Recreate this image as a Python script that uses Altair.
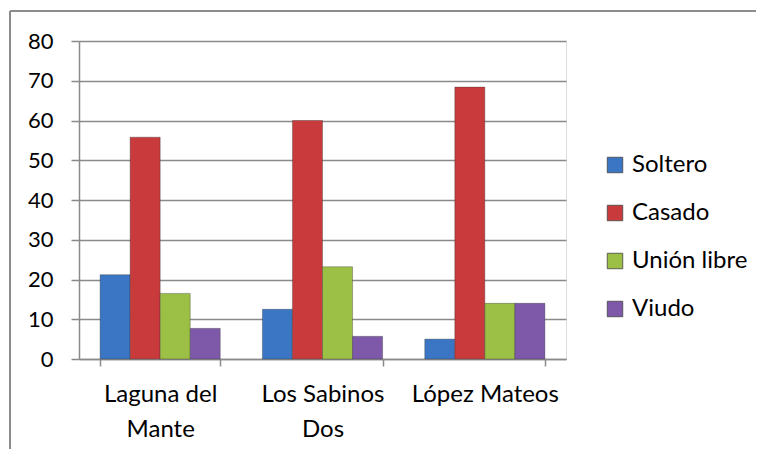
import altair as alt
import pandas as pd

categories = ["Laguna del Mante", "Los Sabinos Dos", "López Mateos"]
label_lines = {
    "Laguna del Mante": ["Laguna del", "Mante"],
    "Los Sabinos Dos": ["Los Sabinos", "Dos"],
    "López Mateos": ["López Mateos"],
}
series = ["Soltero", "Casado", "Unión libre", "Viudo"]
soltero = [21.2, 12.5, 5.0]
casado = [55.8, 60.0, 68.4]
union_libre = [16.5, 23.2, 14.0]
viudo = [7.7, 5.7, 14.0]
colors = ["#3A76C4", "#C93A3C", "#9CBF45", "#7E59AA"]
y_ticks = [0, 10, 20, 30, 40, 50, 60, 70, 80]

rows = []
for s, vals in zip(series, [soltero, casado, union_libre, viudo]):
    for c, v in zip(categories, vals):
        rows.append({"Lugar": c, "Estado": s, "Valor": v})
df = pd.DataFrame(rows)

expr = " : ".join(
    [f"datum.value == '{k}' ? {v!r}" for k, v in label_lines.items()]
) + " : datum.value"

FONT = "Lato"
GRID = "#8a8a8a"

bars = alt.Chart(df).mark_bar(stroke="#333333", strokeWidth=0.6, strokeOpacity=0.6).encode(
    x=alt.X(
        "Lugar:N",
        sort=categories,
        title=None,
        scale=alt.Scale(paddingInner=0.26, paddingOuter=0.13),
        axis=alt.Axis(
            labelAngle=0,
            labelFont=FONT,
            labelFontSize=24,
            labelColor="#000000",
            labelExpr=expr,
            labelLineHeight=35,
            labelPadding=16,
            tickBand="extent",
            tickSize=7,
            tickColor=GRID,
            domainColor=GRID,
            domainWidth=1.5,
            tickWidth=1.5,
            grid=False,
        ),
    ),
    xOffset=alt.XOffset("Estado:N", sort=series),
    y=alt.Y(
        "Valor:Q",
        title=None,
        scale=alt.Scale(domain=[0, 80], nice=False),
        axis=alt.Axis(
            values=y_ticks,
            labelFont=FONT,
            labelFontSize=22,
            labelColor="#000000",
            labelPadding=18,
            tickSize=8,
            tickColor=GRID,
            tickWidth=1.5,
            domainColor=GRID,
            domainWidth=1.5,
            gridColor=GRID,
            gridWidth=1.5,
        ),
    ),
    color=alt.Color(
        "Estado:N",
        sort=series,
        scale=alt.Scale(domain=series, range=colors),
        legend=alt.Legend(
            title=None,
            orient="none",
            legendX=524,
            legendY=112,
            labelFont=FONT,
            labelFontSize=24,
            labelColor="#000000",
            symbolType="square",
            symbolSize=240,
            symbolStrokeColor="#444444",
            symbolStrokeWidth=0.8,
            rowPadding=24,
            labelOffset=5,
        ),
    ),
)

left_border = alt.Chart(df).mark_rule(color="#8c8c8c", strokeWidth=2).encode(
    x=alt.value(-69), y=alt.value(-30), y2=alt.value(440)
)
top_border = alt.Chart(df).mark_rule(color="#8c8c8c", strokeWidth=2).encode(
    x=alt.value(-69), x2=alt.value(690), y=alt.value(-30)
)

chart = alt.layer(bars, left_border, top_border).properties(
    width=487,
    height=318,
    autosize=alt.AutoSizeParams(type="none"),
    padding={"left": 71, "top": 33, "right": 190, "bottom": 90},
).configure_view(stroke=None).configure(background="white")

chart.save("out.html", embed_options={"renderer": "svg", "actions": False})
